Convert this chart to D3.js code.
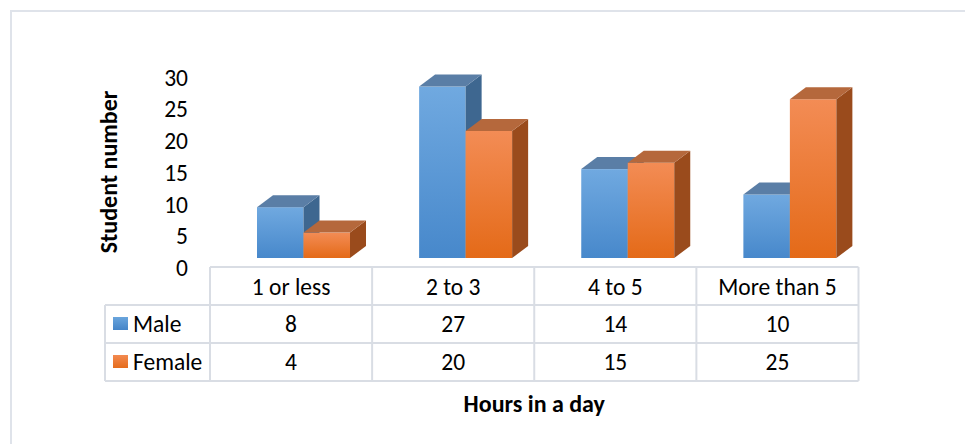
<!DOCTYPE html>
<html>
<head>
<meta charset="utf-8">
<script src="https://cdn.jsdelivr.net/npm/d3@7"></script>
<style>
  html, body { margin: 0; padding: 0; background: #ffffff; }
  svg { display: block; }
  text { font-family: Carlito, Calibri, Lato, "Open Sans", sans-serif; fill: #000; }
</style>
</head>
<body>
<svg id="chart" width="965" height="444"></svg>
<script>
// Study hours per day, by gender
const categories = ["1 or less", "2 to 3", "4 to 5", "More than 5"];
const seriesNames = ["Male", "Female"];
const maleValues = [8, 27, 14, 10];
const femaleValues = [4, 20, 15, 25];
const yTicks = [0, 5, 10, 15, 20, 25, 30];
const yTitle = "Student number";
const xTitle = "Hours in a day";

const series = [
  { name: seriesNames[0], values: maleValues, key: "male" },
  { name: seriesNames[1], values: femaleValues, key: "female" }
];

const W = 965, H = 444;
const svg = d3.select("#chart");
const fontSize = "23.5px";
const titleSize = "24px";

// Palette for the 3D column faces
const faces = {
  male:   { top: "#5a7ea6", side: "#3e6790", g0: "#70a9e0", g1: "#4788cb", legend: ["#6aa5dd", "#4585c8"] },
  female: { top: "#b5683c", side: "#9a4b1c", g0: "#f38c55", g1: "#e46a18", legend: ["#f38a50", "#e56c1c"] }
};
const gridColor = "#d9dde4";

const defs = svg.append("defs");
Object.entries(faces).forEach(([k, f]) => {
  const g = defs.append("linearGradient").attr("id", "front-" + k)
    .attr("x1", 0).attr("y1", 0).attr("x2", 0).attr("y2", 1);
  g.append("stop").attr("offset", "0%").attr("stop-color", f.g0);
  g.append("stop").attr("offset", "100%").attr("stop-color", f.g1);
  const l = defs.append("linearGradient").attr("id", "legend-" + k)
    .attr("x1", 0).attr("y1", 0).attr("x2", 0).attr("y2", 1);
  l.append("stop").attr("offset", "0%").attr("stop-color", f.legend[0]);
  l.append("stop").attr("offset", "100%").attr("stop-color", f.legend[1]);
});

// Outer chart frame
svg.append("path")
  .attr("d", `M11,${H} L11,11 L${W},11`)
  .attr("fill", "none").attr("stroke", "#dfe3ea").attr("stroke-width", 2);

// Scales
const x = d3.scaleBand().domain(categories).range([210, 858.5]).padding(0);
const y = d3.scaleLinear().domain([0, 30]).range([258, 67.5]);

const barInset = 47;     // gap between column edge and first bar front face
const barW = 46.5;       // front face width of a single bar
const depthX = 16, depthY = 12;   // 3D extrusion

// Y-axis tick labels
svg.append("g").selectAll("text").data(yTicks).join("text")
  .attr("x", 188).attr("y", d => y(d) + 10)
  .attr("text-anchor", "end").attr("dominant-baseline", "central")
  .style("font-size", fontSize)
  .text(d => d);

// Y-axis title
svg.append("text")
  .attr("transform", `translate(108,172) rotate(-90)`)
  .attr("text-anchor", "middle").attr("dominant-baseline", "central")
  .style("font-size", titleSize).style("font-weight", "bold")
  .text(yTitle);

// 3D columns
const bars = svg.append("g");
categories.forEach((cat, ci) => {
  series.forEach((s, si) => {
    const v = s.values[ci];
    const x0 = x(cat) + barInset + si * barW;
    const x1 = x0 + barW;
    const yt = y(v), yb = y(0);
    const f = faces[s.key];
    const g = bars.append("g");
    g.append("rect").attr("x", x0).attr("y", yt).attr("width", barW).attr("height", yb - yt)
      .attr("fill", `url(#front-${s.key})`);
    g.append("path")
      .attr("d", `M${x1},${yt} L${x1 + depthX},${yt - depthY} L${x1 + depthX},${yb - depthY} L${x1},${yb} Z`)
      .attr("fill", f.side);
    g.append("path")
      .attr("d", `M${x0},${yt} L${x0 + depthX},${yt - depthY} L${x1 + depthX},${yt - depthY} L${x1},${yt} Z`)
      .attr("fill", f.top);
  });
});

// Data table beneath the columns
const rowTop = [267, 305, 343, 381];
const tableLeft = 105, tableRight = x.range()[1];
const tbl = svg.append("g").attr("stroke", gridColor).attr("stroke-width", 2).attr("fill", "none");
// horizontal lines
tbl.append("line").attr("x1", 210).attr("x2", tableRight).attr("y1", rowTop[0]).attr("y2", rowTop[0]);
[1, 2, 3].forEach(i => tbl.append("line").attr("x1", tableLeft).attr("x2", tableRight)
  .attr("y1", rowTop[i]).attr("y2", rowTop[i]));
// vertical lines
tbl.append("line").attr("x1", tableLeft).attr("x2", tableLeft).attr("y1", rowTop[1]).attr("y2", rowTop[3]);
categories.forEach(c => tbl.append("line").attr("x1", x(c)).attr("x2", x(c)).attr("y1", rowTop[0]).attr("y2", rowTop[3]));
tbl.append("line").attr("x1", tableRight).attr("x2", tableRight).attr("y1", rowTop[0]).attr("y2", rowTop[3]);

// header: category names
svg.append("g").selectAll("text").data(categories).join("text")
  .attr("x", d => x(d) + x.bandwidth() / 2).attr("y", (rowTop[0] + rowTop[1]) / 2 + 1)
  .attr("text-anchor", "middle").attr("dominant-baseline", "central")
  .style("font-size", fontSize).text(d => d);

// series rows: legend key + values
series.forEach((s, si) => {
  const cy = (rowTop[si + 1] + rowTop[si + 2]) / 2;
  svg.append("rect").attr("x", 113).attr("y", cy - 7).attr("width", 15).attr("height", 13)
    .attr("fill", `url(#legend-${s.key})`);
  svg.append("text").attr("x", 133).attr("y", cy)
    .attr("dominant-baseline", "central").style("font-size", fontSize).text(s.name);
  svg.append("g").selectAll("text").data(s.values).join("text")
    .attr("x", (d, i) => x(categories[i]) + x.bandwidth() / 2).attr("y", cy)
    .attr("text-anchor", "middle").attr("dominant-baseline", "central")
    .style("font-size", fontSize).text(d => d);
});

// X-axis title
svg.append("text")
  .attr("x", (210 + tableRight) / 2).attr("y", 403)
  .attr("text-anchor", "middle").attr("dominant-baseline", "central")
  .style("font-size", titleSize).style("font-weight", "bold")
  .text(xTitle);
</script>
</body>
</html>
